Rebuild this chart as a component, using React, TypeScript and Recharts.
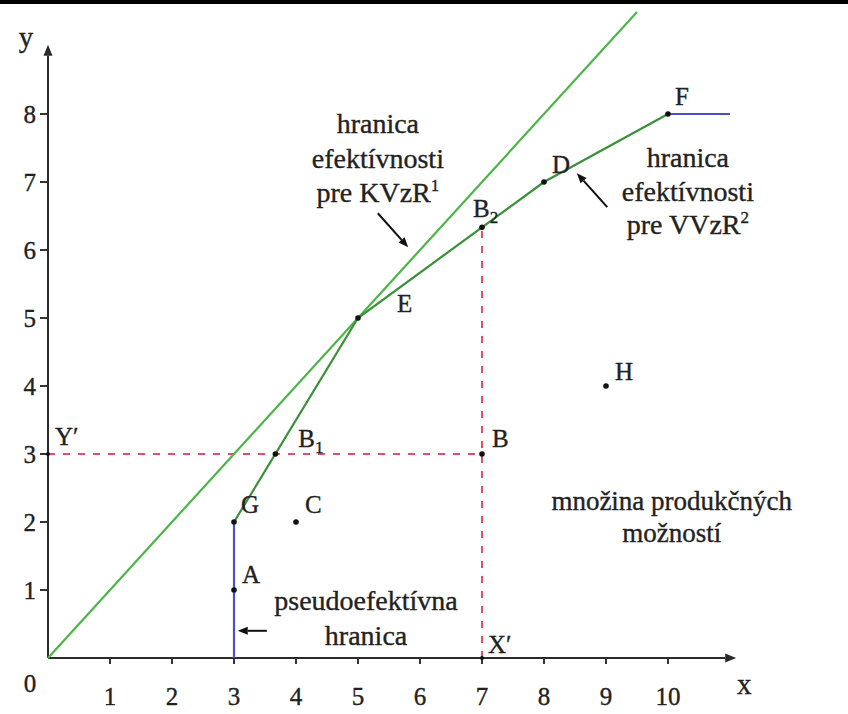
import {
  ComposedChart, Line, Scatter, XAxis, YAxis, ReferenceLine, ReferenceDot,
} from 'recharts'

const FONT = "'Liberation Serif', 'Times New Roman', serif"
const INK = '#222'
// slight outline so the thin serif glyphs read as dark as the lines
const inkStroke = { stroke: INK, strokeWidth: 0.35 }

const xTicks = [1, 2, 3, 4, 5, 6, 7, 8, 9, 10]
const yTicks = [1, 2, 3, 4, 5, 6, 7, 8]

// frontier under constant returns (KVzR): ray through the origin
const crsFrontier = [{ x: 0, y: 0 }, { x: 9.5, y: 9.5 }]
// frontier under variable returns (VVzR): G - E - D - F
const vrsFrontier = [{ x: 3, y: 2 }, { x: 5, y: 5 }, { x: 8, y: 7 }, { x: 10, y: 8 }]
// pseudo-efficient parts of the boundary
const weakVertical = [{ x: 3, y: 0 }, { x: 3, y: 2 }]
const weakHorizontal = [{ x: 10, y: 8 }, { x: 11, y: 8 }]
// projections of unit B
const projInput = [{ x: 0, y: 3 }, { x: 7, y: 3 }]
const projOutput = [{ x: 7, y: 0 }, { x: 7, y: 6.333 }]

const points = [
  { name: 'A', x: 3, y: 1 },
  { name: 'G', x: 3, y: 2 },
  { name: 'C', x: 4, y: 2 },
  { name: 'B1', x: 3.667, y: 3 },
  { name: 'B', x: 7, y: 3 },
  { name: 'E', x: 5, y: 5 },
  { name: 'B2', x: 7, y: 6.333 },
  { name: 'D', x: 8, y: 7 },
  { name: 'F', x: 10, y: 8 },
  { name: 'H', x: 9, y: 4 },
  { name: 'Y′', x: 0, y: 3 },
  { name: 'X′', x: 7, y: 0 },
]

const crsNote = ['hranica', 'efektívnosti', 'pre KVzR']
const vrsNote = ['hranica', 'efektívnosti', 'pre VVzR']
const setNote = ['množina produkčných', 'možností']
const weakNote = ['pseudoefektívna', 'hranica']

// label offset from the dot: [dx, dy to baseline]
const labelOffset: Record<string, [number, number]> = {
  A: [8, -7], G: [7, -9], C: [9, -9], B1: [23, -7], B: [10, -7],
  E: [39, -6], B2: [-9, -10], D: [8, -9], F: [7, -9], H: [9, -6],
  'Y′': [7, -9], 'X′': [6, -5],
}

const XTick = ({ x, y, payload }: any) => (
  <text x={x} y={y + 39} textAnchor="middle" fontFamily={FONT} fontSize={25} fill={INK} {...inkStroke}>
    {payload.value}
  </text>
)

const YTick = ({ x, y, payload }: any) => (
  <text x={x} y={y + 9} textAnchor="end" fontFamily={FONT} fontSize={25} fill={INK} {...inkStroke}>
    {payload.value}
  </text>
)

const renderPoint = ({ cx, cy, payload }: any) => {
  const [dx, dy] = labelOffset[payload.name] ?? [8, -8]
  const main = payload.name.replace(/[12]$/, '')
  const sub = payload.name.match(/[12]$/)?.[0]
  const onAxis = payload.x === 0 || payload.y === 0
  return (
    <g>
      <circle cx={cx} cy={cy} r={onAxis ? 2 : 2.8} fill="#111" />
      <text x={cx + dx} y={cy + dy} fontFamily={FONT} fontSize={25} fill={INK} {...inkStroke}>
        {main}
        {sub && <tspan fontSize={17} dy={6}>{sub}</tspan>}
      </text>
    </g>
  )
}

// line with a filled head at (x2, y2)
const arrow = (len: number, half: number, color: string, width: number) => (p: any) => {
  const { x1, y1, x2, y2 } = p
  const a = Math.atan2(y2 - y1, x2 - x1)
  const bx = x2 - len * Math.cos(a)
  const by = y2 - len * Math.sin(a)
  const nx = -Math.sin(a) * half
  const ny = Math.cos(a) * half
  return (
    <g>
      <line x1={x1} y1={y1} x2={bx} y2={by} stroke={color} strokeWidth={width} />
      <polygon points={`${x2},${y2} ${bx + nx},${by + ny} ${bx - nx},${by - ny}`} fill={color} />
    </g>
  )
}

const note = (lines: string[], sup: string | null, gap: number, size: number) => ({ cx, cy }: any) => (
  <text x={cx} y={cy} textAnchor="middle" fontFamily={FONT} fontSize={size} fill={INK} {...inkStroke}>
    {lines.map((l, i) => (
      <tspan key={i} x={cx} y={cy + i * gap}>
        {l}
        {sup && i === lines.length - 1 && <tspan fontSize={17} dy={-11}>{sup}</tspan>}
      </tspan>
    ))}
  </text>
)

const plainText = (text: string, dx: number, dy: number, size: number) => ({ cx, cy }: any) => (
  <text x={cx + dx} y={cy + dy} textAnchor="middle" fontFamily={FONT} fontSize={size} fill={INK} {...inkStroke}>
    {text}
  </text>
)

export default function App() {
  return (
    <div style={{ position: 'absolute', left: 0, top: 0, width: 848, height: 714, background: '#fff' }}>
      <div style={{ position: 'absolute', left: 0, top: 0, width: 848, height: 4, background: '#000' }} />
      <ComposedChart
        width={848}
        height={714}
        margin={{ top: 12, right: 56, bottom: 0, left: 0 }}
      >
        <XAxis
          type="number"
          dataKey="x"
          domain={[0, 12]}
          ticks={xTicks}
          interval={0}
          height={56}
          axisLine={false}
          tickLine={{ stroke: '#333', strokeWidth: 2 }}
          tickSize={6}
          tick={<XTick />}
        />
        <YAxis
          type="number"
          dataKey="y"
          domain={[0, 9.5]}
          ticks={yTicks}
          interval={0}
          width={48}
          axisLine={false}
          tickLine={{ stroke: '#333', strokeWidth: 2 }}
          tickSize={8}
          tickMargin={4}
          tick={<YTick />}
        />

        <Line data={projInput} dataKey="y" type="linear" stroke="#e0506a" strokeWidth={2}
          strokeDasharray="7 8" dot={false} isAnimationActive={false} />
        <Line data={projOutput} dataKey="y" type="linear" stroke="#e0506a" strokeWidth={2}
          strokeDasharray="7 8" dot={false} isAnimationActive={false} />

        <ReferenceLine segment={[{ x: 0, y: 0 }, { x: 11.1, y: 0 }]} shape={arrow(11, 4.5, '#2b2b2b', 2)} />
        <ReferenceLine segment={[{ x: 0, y: 0 }, { x: 0, y: 9.02 }]} shape={arrow(11, 4.5, '#2b2b2b', 2)} />

        <Line data={crsFrontier} dataKey="y" type="linear" stroke="#4cb548" strokeWidth={2.2}
          dot={false} isAnimationActive={false} />
        <Line data={vrsFrontier} dataKey="y" type="linear" stroke="#3a913a" strokeWidth={2.2}
          dot={false} isAnimationActive={false} />
        <Line data={weakVertical} dataKey="y" type="linear" stroke="#4f4fc4" strokeWidth={2.2}
          dot={false} isAnimationActive={false} />
        <Line data={weakHorizontal} dataKey="y" type="linear" stroke="#4f4fc4" strokeWidth={2.2}
          dot={false} isAnimationActive={false} />

        <Scatter data={points} dataKey="y" shape={renderPoint} isAnimationActive={false} />

        <ReferenceLine segment={[{ x: 5.32, y: 6.54 }, { x: 5.81, y: 6.04 }]} shape={arrow(10, 4, '#111', 2)} />
        <ReferenceLine segment={[{ x: 9.02, y: 6.63 }, { x: 8.53, y: 7.13 }]} shape={arrow(10, 4, '#111', 2)} />
        <ReferenceLine segment={[{ x: 3.53, y: 0.4 }, { x: 3.06, y: 0.4 }]} shape={arrow(10, 4, '#111', 2)} />

        <ReferenceDot x={5.32} y={7.72} r={0} ifOverflow="visible" shape={note(crsNote, '1', 34.5, 28)} />
        <ReferenceDot x={10.32} y={7.22} r={0} ifOverflow="visible" shape={note(vrsNote, '2', 33.5, 28)} />
        <ReferenceDot x={10.06} y={2.18} r={0} ifOverflow="visible" shape={note(setNote, null, 32, 27)} />
        <ReferenceDot x={5.13} y={0.71} r={0} ifOverflow="visible" shape={note(weakNote, null, 35, 28)} />

        <ReferenceDot x={0} y={0} r={0} ifOverflow="visible" shape={plainText('0', -18, 34, 25)} />
        <ReferenceDot x={0} y={9} r={0} ifOverflow="visible" shape={plainText('y', -22, 1, 29)} />
        <ReferenceDot x={11.1} y={0} r={0} ifOverflow="visible" shape={plainText('x', 8, 36, 29)} />
      </ComposedChart>
    </div>
  )
}
